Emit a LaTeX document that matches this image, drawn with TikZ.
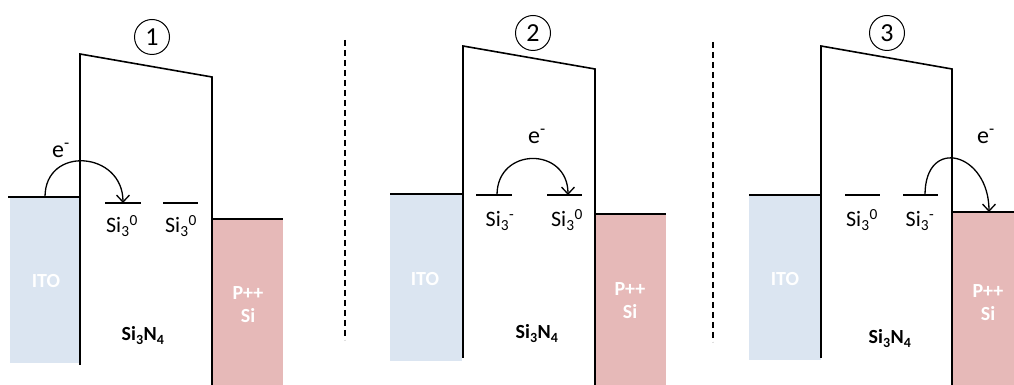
\documentclass[tikz,border=0pt]{standalone}
\usepackage{fontspec}
\setmainfont{Carlito}
\usepackage{tikz}
\usetikzlibrary{arrows.meta}
\definecolor{itoBlue}{HTML}{DBE5F1}
\definecolor{siRed}{HTML}{E6B9B8}

\begin{document}
\begin{tikzpicture}[
    x=1pt, y=1pt,
    barrier/.style={line width=1.6pt, line join=miter},
    edge/.style={line width=1.4pt},
    level/.style={line width=1.3pt},
    hop/.style={-{Straight Barb[length=7pt,width=13pt]}, line width=1.3pt},
    trap/.style={font=\fontsize{22}{24}\selectfont, anchor=base, inner sep=0pt},
    elec/.style={font=\fontsize{24}{26}\selectfont, anchor=base, inner sep=0pt},
    tag/.style={font=\fontsize{20}{23}\selectfont\bfseries, text=white,
                align=center, inner sep=0pt},
    film/.style={font=\fontsize{20}{24}\selectfont\bfseries, anchor=base,
                 inner sep=0pt},
    num/.style={circle, draw, line width=1pt, minimum size=35pt,
                inner sep=0pt, font=\fontsize{26}{28}\selectfont},
    sep/.style={line width=1.4pt, dash pattern=on 6pt off 4pt},
]
\useasboundingbox (0,0) rectangle (1014,385);

% Panel 1: ITO -> first trap
\fill[itoBlue] (10,22) rectangle (80,188);
\fill[siRed] (212,0) rectangle (283,166);
\draw[edge] (8,188) -- (80,188);
\draw[edge] (212,166) -- (283,166);
\draw[barrier] (80,20) -- (80,331) -- (212,308) -- (212,0);
\draw[level] (105,182) -- (141,182);
\draw[level] (163,182) -- (198,182);
\node[num] (n1) at (152,348) {1};
\node[tag, anchor=base] (ito1) at (46,97) {ITO};
\node[tag] (psi1) at (248,80) {P++\\Si};
\node[film] (sin1) at (143,44) {Si\textsubscript{3}N\textsubscript{4}};
\node[trap] (q1a) at (122,152) {Si\textsubscript{3}\textsuperscript{0}};
\node[trap] (q1b) at (181,152) {Si\textsubscript{3}\textsuperscript{0}};
\node[elec] (e1) at (61,227) {e\textsuperscript{-}};
\coordinate (h1s) at (45,188);
\coordinate (h1e) at (123,182);
\draw[hop] (h1s) to[out=90, in=90, looseness=1.7] (h1e);

% Panel 2: trap -> trap
\draw[sep] (345,345) -- (345,45);
\fill[itoBlue] (390,24) rectangle (462,191);
\fill[siRed] (595,0) rectangle (666,171);
\draw[edge] (390,191) -- (463,191);
\draw[edge] (595,171) -- (666,171);
\draw[barrier] (463,27) -- (463,339) -- (595,316) -- (595,0);
\draw[level] (476,190) -- (512,190);
\draw[level] (547,190) -- (582,190);
\node[num] (n2) at (533,352) {2};
\node[tag, anchor=base] (ito2) at (425,99) {ITO};
\node[tag] (psi2) at (630,84) {P++\\Si};
\node[film] (sin2) at (537,46) {Si\textsubscript{3}N\textsubscript{4}};
\node[trap] (q2a) at (500,158) {Si\textsubscript{3}\textsuperscript{-}};
\node[trap] (q2b) at (567,158) {Si\textsubscript{3}\textsuperscript{0}};
\node[elec] (e2) at (537,241) {e\textsuperscript{-}};
\coordinate (h2s) at (497,190);
\coordinate (h2e) at (568,190);
\draw[hop] (h2s) to[out=90, in=90, looseness=1.75] (h2e);

% Panel 3: trap -> P++ Si
\draw[sep] (713,343) -- (713,43);
\fill[itoBlue] (749,25) rectangle (821,190);
\fill[siRed] (952,0) rectangle (1014,173);
\draw[edge] (749,190) -- (821,190);
\draw[edge] (952,173) -- (1014,173);
\draw[barrier] (821,27) -- (821,339) -- (952,316) -- (952,0);
\draw[level] (845,190) -- (880,190);
\draw[level] (903,190) -- (938,190);
\node[num] (n3) at (887,352) {3};
\node[tag, anchor=base] (ito3) at (785,99) {ITO};
\node[tag] (psi3) at (988,82) {P++\\Si};
\node[film] (sin3) at (890,41) {Si\textsubscript{3}N\textsubscript{4}};
\node[trap] (q3a) at (862,158) {Si\textsubscript{3}\textsuperscript{0}};
\node[trap] (q3b) at (920,158) {Si\textsubscript{3}\textsuperscript{-}};
\node[elec] (e3) at (986,241) {e\textsuperscript{-}};
\coordinate (h3s) at (925,190);
\coordinate (h3e) at (989,173);
\draw[hop] (h3s) to[out=90, in=90, looseness=2.3] (h3e);
\end{tikzpicture}
\end{document}
